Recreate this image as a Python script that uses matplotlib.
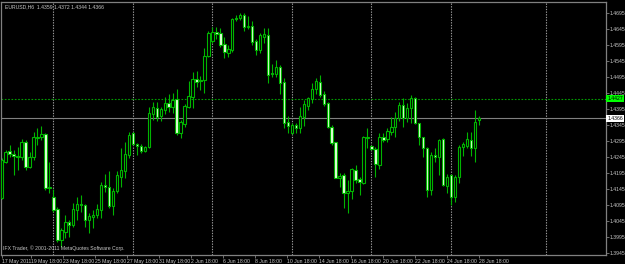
import numpy as np
import matplotlib.pyplot as plt

plt.rcParams['font.family'] = ['Liberation Sans Narrow', 'Liberation Sans', 'DejaVu Sans']

# EURUSD H6 bars
opens = [1.4116, 1.4230, 1.4264, 1.4254, 1.4248, 1.4243, 1.4292, 1.4214, 1.4245, 1.4303,
         1.4306, 1.4316, 1.4152, 1.4120, 1.4081, 1.3985, 1.4011, 1.4042, 1.4032, 1.4079,
         1.4098, 1.4094, 1.4048, 1.4058, 1.4063, 1.4079, 1.4157, 1.4152, 1.4091, 1.4139,
         1.4183, 1.4202, 1.4251, 1.4318, 1.4285, 1.4280, 1.4264, 1.4277, 1.4379, 1.4397,
         1.4373, 1.4391, 1.4414, 1.4400, 1.4425, 1.4320, 1.4348, 1.4402, 1.4431, 1.4488,
         1.4485, 1.4485, 1.4560, 1.4608, 1.4636, 1.4631, 1.4598, 1.4568, 1.4579, 1.4680,
         1.4678, 1.4688, 1.4650, 1.4654, 1.4608, 1.4579, 1.4620, 1.4626, 1.4507, 1.4504,
         1.4525, 1.4480, 1.4355, 1.4320, 1.4344, 1.4334, 1.4370, 1.4404, 1.4425, 1.4456,
         1.4480, 1.4441, 1.4412, 1.4337, 1.4290, 1.4178, 1.4188, 1.4131, 1.4139, 1.4204,
         1.4175, 1.4162, 1.4304, 1.4279, 1.4268, 1.4219, 1.4306, 1.4300, 1.4323, 1.4337,
         1.4365, 1.4407, 1.4365, 1.4397, 1.4428, 1.4350, 1.4306, 1.4272, 1.4141, 1.4251,
         1.4245, 1.4300, 1.4154, 1.4188, 1.4120, 1.4181, 1.4277, 1.4279, 1.4298, 1.4272,
         1.4359]
highs = [1.4241, 1.4266, 1.4282, 1.4266, 1.4277, 1.4300, 1.4298, 1.4261, 1.4323, 1.4334,
         1.4341, 1.4320, 1.4230, 1.4143, 1.4087, 1.4023, 1.4063, 1.4048, 1.4100, 1.4118,
         1.4126, 1.4098, 1.4068, 1.4079, 1.4098, 1.4167, 1.4191, 1.4202, 1.4147, 1.4202,
         1.4273, 1.4292, 1.4323, 1.4323, 1.4289, 1.4285, 1.4280, 1.4402, 1.4417, 1.4417,
         1.4402, 1.4431, 1.4441, 1.4443, 1.4456, 1.4360, 1.4410, 1.4483, 1.4511, 1.4514,
         1.4498, 1.4584, 1.4639, 1.4652, 1.4652, 1.4647, 1.4618, 1.4594, 1.4678, 1.4688,
         1.4693, 1.4693, 1.4685, 1.4670, 1.4612, 1.4633, 1.4647, 1.4647, 1.4535, 1.4548,
         1.4532, 1.4490, 1.4373, 1.4352, 1.4350, 1.4400, 1.4423, 1.4433, 1.4475, 1.4490,
         1.4501, 1.4452, 1.4417, 1.4344, 1.4292, 1.4193, 1.4193, 1.4173, 1.4209, 1.4219,
         1.4183, 1.4310, 1.4334, 1.4282, 1.4277, 1.4320, 1.4320, 1.4334, 1.4370, 1.4386,
         1.4417, 1.4428, 1.4414, 1.4438, 1.4433, 1.4352, 1.4308, 1.4277, 1.4261, 1.4272,
         1.4300, 1.4303, 1.4191, 1.4191, 1.4188, 1.4282, 1.4292, 1.4323, 1.4323, 1.4391,
         1.4372]
lows = [1.4113, 1.4226, 1.4245, 1.4188, 1.4204, 1.4235, 1.4204, 1.4209, 1.4235, 1.4282,
        1.4298, 1.4141, 1.4131, 1.4073, 1.3980, 1.3964, 1.3990, 1.3995, 1.4027, 1.4048,
        1.4073, 1.4027, 1.4008, 1.4022, 1.4053, 1.4053, 1.4136, 1.4084, 1.4063, 1.4131,
        1.4152, 1.4178, 1.4240, 1.4282, 1.4251, 1.4256, 1.4261, 1.4272, 1.4360, 1.4358,
        1.4358, 1.4379, 1.4386, 1.4381, 1.4313, 1.4303, 1.4339, 1.4397, 1.4397, 1.4462,
        1.4454, 1.4445, 1.4556, 1.4602, 1.4612, 1.4589, 1.4553, 1.4558, 1.4573, 1.4669,
        1.4673, 1.4639, 1.4643, 1.4594, 1.4563, 1.4570, 1.4600, 1.4475, 1.4494, 1.4494,
        1.4441, 1.4334, 1.4318, 1.4316, 1.4320, 1.4320, 1.4341, 1.4391, 1.4412, 1.4441,
        1.4433, 1.4404, 1.4334, 1.4282, 1.4178, 1.4152, 1.4084, 1.4068, 1.4112, 1.4164,
        1.4126, 1.4160, 1.4272, 1.4266, 1.4183, 1.4206, 1.4292, 1.4292, 1.4313, 1.4306,
        1.4358, 1.4339, 1.4355, 1.4350, 1.4348, 1.4282, 1.4243, 1.4120, 1.4126, 1.4230,
        1.4188, 1.4154, 1.4133, 1.4094, 1.4105, 1.4164, 1.4248, 1.4272, 1.4248, 1.4230,
        1.4344]
closes = [1.4235, 1.4261, 1.4254, 1.4248, 1.4245, 1.4290, 1.4214, 1.4245, 1.4306, 1.4308,
          1.4315, 1.4147, 1.4148, 1.4079, 1.3985, 1.4016, 1.4042, 1.4032, 1.4081, 1.4098,
          1.4094, 1.4048, 1.4060, 1.4063, 1.4082, 1.4157, 1.4150, 1.4091, 1.4139, 1.4188,
          1.4204, 1.4254, 1.4313, 1.4285, 1.4279, 1.4264, 1.4277, 1.4381, 1.4400, 1.4370,
          1.4393, 1.4412, 1.4400, 1.4423, 1.4318, 1.4354, 1.4404, 1.4435, 1.4487, 1.4479,
          1.4482, 1.4560, 1.4631, 1.4636, 1.4629, 1.4594, 1.4572, 1.4582, 1.4675, 1.4677,
          1.4688, 1.4650, 1.4654, 1.4605, 1.4579, 1.4626, 1.4629, 1.4501, 1.4504, 1.4527,
          1.4475, 1.4352, 1.4341, 1.4344, 1.4334, 1.4373, 1.4410, 1.4428, 1.4456, 1.4483,
          1.4438, 1.4410, 1.4337, 1.4289, 1.4180, 1.4185, 1.4131, 1.4139, 1.4206, 1.4173,
          1.4167, 1.4306, 1.4307, 1.4268, 1.4222, 1.4306, 1.4298, 1.4327, 1.4339, 1.4365,
          1.4407, 1.4365, 1.4397, 1.4428, 1.4350, 1.4306, 1.4272, 1.4141, 1.4251, 1.4243,
          1.4298, 1.4157, 1.4183, 1.4120, 1.4181, 1.4277, 1.4285, 1.4300, 1.4272, 1.4355,
          1.4366]

price_ticks = [1.3945, 1.3995, 1.4045, 1.4095, 1.4145, 1.4195, 1.4245, 1.4295,
               1.4345, 1.4395, 1.4445, 1.4495, 1.4545, 1.4595, 1.4645, 1.4695]
time_labels = ['17 May 2011', '19 May 18:00', '23 May 18:00', '25 May 18:00', '27 May 18:00',
               '31 May 18:00', '2 Jun 18:00', '6 Jun 18:00', '8 Jun 18:00', '10 Jun 18:00',
               '14 Jun 18:00', '16 Jun 18:00', '20 Jun 18:00', '22 Jun 18:00', '24 Jun 18:00',
               '28 Jun 18:00']
time_pos = [0, 7.4, 15.4, 23.5, 31.5, 39.6, 47.6, 55.7, 63.7, 71.8, 79.8, 87.9, 95.9, 104, 112, 120]
week_lines = [13, 32.9, 53, 72.9, 93, 112.9, 137]
line_green = 1.4427
last_price = 1.4366

bg = '#000000'
green = '#00b400'
bear_fill = '#e4ffdc'
txt = '#c8c8c8'
grey = '#808080'
fs = 3.7

fig = plt.figure(figsize=(6.25, 2.64), dpi=100, facecolor=bg)
ax = fig.add_axes([1/625, 9/264, 605/625, 253.3/264], facecolor=bg)

for x in week_lines:
    ax.axvline(x, color='#9a9a9a', lw=0.8, linestyle=(0, (1.2, 1.2)), zorder=1)
ax.axhline(line_green, color='#00a000', lw=0.8, linestyle=(0, (1.5, 1.5)), zorder=1)
ax.axhline(last_price, color=grey, lw=0.8, zorder=1)

idx = np.arange(len(opens))
o = np.array(opens); h = np.array(highs); l = np.array(lows); c = np.array(closes)
ax.vlines(idx, l, h, color=green, lw=0.8, zorder=2)
up = c >= o
bottoms = np.minimum(o, c)
heights = np.maximum(np.abs(c - o), 0.00025)
ax.bar(idx[up], heights[up], bottom=bottoms[up], width=0.6, color=bg,
       edgecolor=green, linewidth=0.8, zorder=3)
ax.bar(idx[~up], heights[~up], bottom=bottoms[~up], width=0.6, color=bear_fill,
       edgecolor=green, linewidth=0.8, zorder=3)

ax.set_xlim(-0.18, 152.0)
ax.set_ylim(1.39381, 1.47297)

for s in ax.spines.values():
    s.set_color(grey)
    s.set_linewidth(0.9)

ax.yaxis.tick_right()
ax.set_yticks(price_ticks)
ax.set_yticklabels(['%.4f' % p for p in price_ticks])
ax.tick_params(axis='y', colors=grey, labelcolor=txt, labelsize=fs, length=2, width=0.6, pad=0.6)
ax.set_xticks(time_pos)
ax.set_xticklabels(time_labels, ha='left')
ax.tick_params(axis='x', colors=grey, labelcolor=txt, labelsize=fs, length=2, width=0.6, pad=0.6)

ytr = ax.get_yaxis_transform()
ax.text(1.0025, line_green, '%.4f' % line_green, transform=ytr, fontsize=fs, color='black',
        ha='left', va='center', bbox=dict(boxstyle='square,pad=0.2', fc='#00ff00', ec='none'))
ax.text(1.0025, last_price, '%.4f' % last_price, transform=ytr, fontsize=fs, color='black',
        ha='left', va='center', bbox=dict(boxstyle='square,pad=0.2', fc='white', ec='none'))

ax.text(0.006, 0.988, 'EURUSD,H6  1.4359 1.4372 1.4344 1.4366', transform=ax.transAxes,
        fontsize=fs, color=txt, ha='left', va='top')
ax.text(0.004, 0.014, 'IFX Trader, © 2001-2011 MetaQuotes Software Corp.', transform=ax.transAxes,
        fontsize=fs, color=txt, ha='left', va='bottom')

fig.savefig('out.png', dpi=100, facecolor=bg)
